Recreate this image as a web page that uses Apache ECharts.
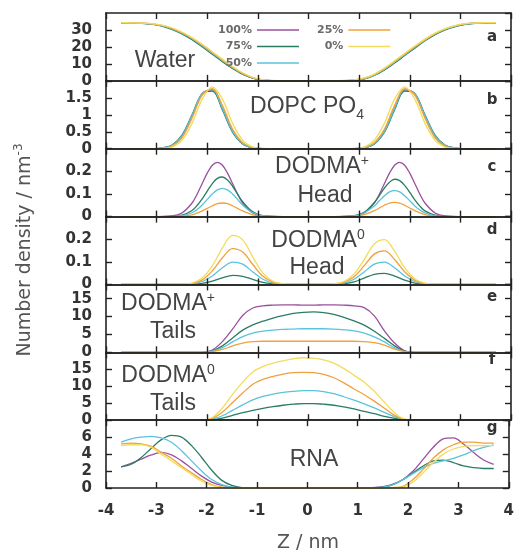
<!DOCTYPE html>
<html>
<head>
<meta charset="utf-8">
<script src="https://cdn.jsdelivr.net/npm/echarts@6/dist/echarts.min.js"></script>
<style>
  html, body { margin: 0; padding: 0; background: #ffffff; }
  #chart { width: 517px; height: 557px; }
</style>
</head>
<body>
<div id="chart"></div>
<script>
// Z positions (nm) used by most density profiles
const zPos = [-3.7,-3.5,-3.3,-3.1,-2.9,-2.7,-2.5,-2.3,-2.1,-1.9,-1.7,-1.5,-1.3,-1.1,-0.9,-0.7,-0.5,-0.3,-0.1,
              0.1,0.3,0.5,0.7,0.9,1.1,1.3,1.5,1.7,1.9,2.1,2.3,2.5,2.7,2.9,3.1,3.3,3.5,3.7];
// finer Z sampling around the narrow DODMA+ head peaks
const zHeadFine = [-3.7,-3.1,-2.7,-2.5,-2.3,-2.2,-2.1,-2.0,-1.9,-1.8,-1.7,-1.6,-1.5,-1.4,-1.3,-1.1,-0.9,-0.5,
                   0,
                   0.5,0.9,1.1,1.3,1.4,1.5,1.6,1.7,1.8,1.9,2.0,2.1,2.2,2.3,2.5,2.7,3.1,3.7];

const levels = ['100%', '75%', '50%', '25%', '0%'];
const xTicks = [-4, -3, -2, -1, 0, 1, 2, 3, 4];

// (a) Water
const water100 = [34.3,34.2,34.0,33.5,32.5,30.6,27.9,24.5,20.4,16.0,11.6,7.5,4.0,1.6,0.4,0.1,0,0,0, 0,0,0,0.05,0.3,1.2,3.3,6.6,10.8,15.2,19.6,23.8,27.4,30.2,32.2,33.4,34.0,34.2,34.3];
const water75  = [34.2,34.1,33.9,33.4,32.3,30.4,27.7,24.2,20.1,15.7,11.3,7.3,3.9,1.6,0.4,0.1,0,0,0, 0,0,0,0.05,0.3,1.2,3.2,6.4,10.5,14.9,19.3,23.6,27.2,30.0,32.0,33.3,33.9,34.1,34.2];
const water50  = [34.3,34.2,34.0,33.5,32.6,30.8,28.1,24.8,20.7,16.3,11.9,7.7,4.2,1.7,0.5,0.1,0,0,0, 0,0,0,0.1,0.4,1.3,3.4,6.8,11.0,15.4,19.8,24.0,27.6,30.4,32.3,33.5,34.0,34.2,34.3];
const water25  = [34.2,34.1,34.0,33.6,32.7,31.0,28.4,25.1,21.1,16.7,12.3,8.0,4.4,1.9,0.6,0.1,0,0,0, 0,0,0,0.1,0.5,1.5,3.7,7.1,11.4,15.8,20.1,24.3,27.8,30.6,32.5,33.6,34.1,34.2,34.2];
const water0   = [34.3,34.2,34.1,33.7,32.9,31.3,28.8,25.5,21.6,17.2,12.8,8.5,4.8,2.1,0.7,0.2,0,0,0, 0,0,0.02,0.2,0.6,1.7,4.0,7.5,11.8,16.2,20.5,24.6,28.1,30.8,32.6,33.7,34.1,34.3,34.3];

// (b) DOPC phosphate
const po4_100 = [0,0,0,0,0.02,0.09,0.37,0.97,1.62,1.73,1.19,0.52,0.15,0.03,0,0,0,0,0, 0,0,0,0,0,0.03,0.15,0.52,1.19,1.73,1.62,0.97,0.37,0.09,0.02,0,0,0,0];
const po4_75  = [0,0,0,0,0.02,0.10,0.40,1.00,1.62,1.70,1.14,0.49,0.14,0.03,0,0,0,0,0, 0,0,0,0,0,0.03,0.14,0.49,1.14,1.70,1.62,1.00,0.40,0.10,0.02,0,0,0,0];
const po4_50  = [0,0,0,0,0.02,0.09,0.38,0.98,1.63,1.74,1.18,0.51,0.15,0.03,0,0,0,0,0, 0,0,0,0,0,0.03,0.15,0.51,1.18,1.74,1.63,0.98,0.38,0.09,0.02,0,0,0,0];
const po4_25  = [0,0,0,0,0.01,0.07,0.32,0.90,1.58,1.77,1.27,0.58,0.18,0.04,0,0,0,0,0, 0,0,0,0,0,0.04,0.18,0.58,1.27,1.77,1.58,0.90,0.32,0.07,0.01,0,0,0,0];
const po4_0   = [0,0,0,0,0.01,0.05,0.25,0.75,1.46,1.82,1.46,0.75,0.25,0.05,0.01,0,0,0,0, 0,0,0,0,0.01,0.05,0.25,0.75,1.46,1.82,1.46,0.75,0.25,0.05,0.01,0,0,0,0];

// (c) DODMA+ head group, sampled on zHeadFine
const headP100 = [0,0,0.003,0.016,0.06,0.099,0.146,0.192,0.227,0.24,0.227,0.192,0.146,0.099,0.06,0.016,0.003,0, 0, 0,0.003,0.016,0.06,0.099,0.146,0.192,0.227,0.24,0.227,0.192,0.146,0.099,0.06,0.016,0.003,0,0];
const headP75  = [0,0,0.001,0.006,0.027,0.049,0.078,0.113,0.146,0.169,0.175,0.162,0.134,0.099,0.066,0.021,0.004,0, 0, 0,0.004,0.019,0.062,0.093,0.126,0.152,0.165,0.159,0.138,0.107,0.074,0.046,0.025,0.006,0.001,0,0];
const headP50  = [0,0,0,0.004,0.017,0.031,0.051,0.076,0.10,0.118,0.125,0.118,0.10,0.076,0.051,0.017,0.004,0, 0, 0,0.003,0.016,0.047,0.07,0.092,0.109,0.115,0.109,0.092,0.07,0.047,0.029,0.016,0.003,0,0,0];
const headP25  = [0,0,0,0.002,0.008,0.015,0.025,0.036,0.048,0.057,0.06,0.057,0.048,0.036,0.025,0.008,0.002,0, 0, 0,0.002,0.009,0.026,0.038,0.05,0.06,0.063,0.06,0.05,0.038,0.026,0.016,0.009,0.002,0,0,0];

// (d) DODMA0 head group
const headN75 = [0,0,0,0,0,0,0,0.001,0.005,0.015,0.029,0.040,0.036,0.022,0.009,0.003,0,0,0, 0,0,0,0.003,0.011,0.028,0.045,0.049,0.037,0.019,0.006,0.001,0,0,0,0,0,0,0];
const headN50 = [0,0,0,0,0,0,0,0.003,0.013,0.037,0.074,0.099,0.090,0.055,0.023,0.006,0.001,0,0, 0,0,0.001,0.006,0.023,0.055,0.090,0.099,0.074,0.037,0.013,0.003,0,0,0,0,0,0,0];
const headN25 = [0,0,0,0,0,0,0,0.005,0.020,0.060,0.118,0.158,0.143,0.088,0.036,0.010,0.002,0,0, 0,0,0.002,0.010,0.034,0.083,0.134,0.148,0.11,0.056,0.019,0.004,0,0,0,0,0,0,0];
const headN0  = [0,0,0,0,0,0,0.001,0.006,0.028,0.082,0.162,0.217,0.197,0.121,0.050,0.014,0.003,0,0, 0,0,0.003,0.013,0.046,0.110,0.179,0.198,0.147,0.074,0.025,0.006,0.001,0,0,0,0,0,0];

// (e) DODMA+ tails
const tailP100 = [0,0,0,0,0,0,0,0,0,0.6,3.0,6.5,10.3,12.4,13.0,13.2,13.3,13.3,13.2, 13.2,13.3,13.3,13.2,13.0,12.5,10.2,6.0,2.6,0.4,0,0,0,0,0,0,0,0,0];
const tailP75  = [0,0,0,0,0,0,0,0,0,0.4,1.8,4.0,6.2,7.7,8.7,9.6,10.3,10.9,11.2, 11.3,11.1,10.6,9.8,8.8,7.6,5.9,3.9,1.8,0.3,0,0,0,0,0,0,0,0,0];
const tailP50  = [0,0,0,0,0,0,0,0,0,0.3,1.3,2.9,4.4,5.4,5.9,6.2,6.4,6.5,6.6, 6.6,6.6,6.5,6.3,6.0,5.4,4.3,2.9,1.3,0.2,0,0,0,0,0,0,0,0,0];
const tailP25  = [0,0,0,0,0,0,0,0,0,0.2,0.8,1.8,2.6,3.0,3.1,3.1,3.1,3.1,3.1, 3.1,3.1,3.1,3.1,3.1,3.0,2.7,2.0,0.9,0.2,0,0,0,0,0,0,0,0,0];

// (f) DODMA0 tails
const tailN75 = [0,0,0,0,0,0,0,0,0,0.1,0.6,1.4,2.2,2.9,3.5,4.0,4.4,4.7,4.9, 4.9,4.7,4.4,3.9,3.3,2.6,1.9,1.1,0.5,0.1,0,0,0,0,0,0,0,0,0];
const tailN50 = [0,0,0,0,0,0,0,0,0,0.3,1.3,2.9,4.5,6.0,7.0,7.7,8.2,8.5,8.7, 8.7,8.4,7.8,6.9,5.9,4.8,3.6,2.3,1.0,0.1,0,0,0,0,0,0,0,0,0];
const tailN25 = [0,0,0,0,0,0,0,0,0,0.5,2.4,5.2,8.0,10.6,12.0,12.9,13.6,14.0,14.1, 14.0,13.5,12.5,11.0,9.2,7.5,5.6,3.5,1.4,0.2,0,0,0,0,0,0,0,0,0];
const tailN0  = [0,0,0,0,0,0,0,0,0,0.8,3.6,7.6,11.2,14.2,15.8,16.8,17.5,18.1,18.4, 18.3,17.8,16.8,15.2,13.2,11.2,8.5,5.3,2.2,0.3,0,0,0,0,0,0,0,0,0];

// (g) RNA
const rna100 = [2.5,2.9,3.4,3.9,4.2,3.9,3.2,2.3,1.4,0.7,0.3,0.1,0,0,0,0,0,0,0, 0,0,0,0,0,0,0.05,0.15,0.45,1.0,2.0,3.4,4.8,5.8,5.9,5.2,4.2,3.3,2.8];
const rna75  = [2.5,2.8,3.6,4.7,5.7,6.2,6.0,5.0,3.6,2.1,0.9,0.3,0.05,0,0,0,0,0,0, 0,0,0,0,0,0,0.02,0.1,0.4,1.0,1.8,2.6,3.2,3.3,3.0,2.6,2.4,2.3,2.3];
const rna50  = [5.4,5.8,6.0,6.1,5.9,5.4,4.4,3.2,2.0,1.0,0.4,0.1,0,0,0,0,0,0,0, 0,0,0,0,0,0,0.02,0.1,0.4,1.0,1.7,2.4,2.9,3.2,3.5,3.9,4.4,4.8,5.1];
const rna25  = [5.2,5.3,5.2,4.9,4.2,3.5,2.6,1.8,1.0,0.4,0.1,0,0,0,0,0,0,0,0, 0,0,0,0,0,0,0,0,0.05,0.2,1.0,2.2,3.5,4.5,5.1,5.4,5.4,5.3,5.3];
const rna0   = [5.0,5.1,5.1,4.8,4.0,3.2,2.4,1.6,0.8,0.3,0.05,0,0,0,0,0,0,0,0, 0,0,0,0,0,0,0,0,0,0.1,0.7,1.8,3.0,4.0,4.6,4.9,5.0,5.0,5.0];

// y-axis tick steps and upper limits, one per panel
const yMax  = [40, 2, 0.3, 0.3, 19, 20, 8];
const yStep = [10, 0.5, 0.1, 0.1, 5, 5, 2];

// Z sampling and curves per panel, curves in the order of `levels` (null = profile not present)
const panelZ = [zPos, zPos, zHeadFine, zPos, zPos, zPos, zPos];
const panelCurves = [
  [water100, water75, water50, water25, water0],
  [po4_100, po4_75, po4_50, po4_25, po4_0],
  [headP100, headP75, headP50, headP25, null],
  [null, headN75, headN50, headN25, headN0],
  [tailP100, tailP75, tailP50, tailP25, null],
  [null, tailN75, tailN50, tailN25, tailN0],
  [rna100, rna75, rna50, rna25, rna0]
];

const levelColors = ['#9b4f9f', '#2a7d63', '#5ac3dc', '#f2a03c', '#f2dc5c'];
const panelLetters = ['a', 'b', 'c', 'd', 'e', 'f', 'g'];

// ---- layout ----
const gridLeft = 106, gridRight = 6, gridTop = 13, panelH = 67.86;
const axisColor = '#222';
const tickFont = { fontFamily: 'DejaVu Sans', fontSize: 15, fontWeight: 'bold', color: '#333' };

const grids = [], xAxes = [], yAxes = [], series = [];

panelCurves.forEach((curves, i) => {
  const top = gridTop + i * panelH;
  grids.push({ left: gridLeft, right: gridRight, top: top, height: panelH, containLabel: false });
  const isLast = i === panelCurves.length - 1;

  const xCommon = {
    type: 'value', gridIndex: i, min: xTicks[0], max: xTicks[xTicks.length - 1], interval: 1,
    axisLine: { show: true, onZero: false, lineStyle: { color: axisColor, width: 1.6 } },
    axisTick: { show: true, inside: true, length: 6, lineStyle: { color: axisColor, width: 1.4 } },
    splitLine: { show: false }, z: 5
  };
  xAxes.push(Object.assign({}, xCommon, {
    position: 'bottom',
    axisLabel: Object.assign({ show: isLast, margin: 16 }, tickFont)
  }));
  xAxes.push(Object.assign({}, xCommon, { position: 'top', axisLabel: { show: false } }));

  const yCommon = {
    type: 'value', gridIndex: i, min: 0, max: yMax[i], interval: yStep[i],
    axisLine: { show: true, onZero: false, lineStyle: { color: axisColor, width: 1.6 } },
    axisTick: { show: true, inside: true, length: 6, lineStyle: { color: axisColor, width: 1.4 } },
    splitLine: { show: false }, z: 5
  };
  yAxes.push(Object.assign({}, yCommon, {
    position: 'left',
    axisLabel: Object.assign({ show: true, margin: 14, showMaxLabel: false }, tickFont)
  }));
  yAxes.push(Object.assign({}, yCommon, { position: 'right', axisLabel: { show: false } }));

  const zs = panelZ[i];
  curves.forEach((vals, k) => {
    if (!vals) return;
    series.push({
      type: 'line', name: levels[k], xAxisIndex: 2 * i, yAxisIndex: 2 * i,
      data: zs.map((z, n) => [z, vals[n]]),
      showSymbol: false, smooth: 0.35, silent: true, z: 2,
      lineStyle: { width: 1.3, color: levelColors[k] },
      itemStyle: { color: levelColors[k] }
    });
  });
});

// ---- panel annotations ----
const labelFill = '#444';
const labelFont = 'Liberation Sans';
const richLabel = {
  m: { fontSize: 23, fontFamily: labelFont, fill: labelFill, lineHeight: 26 },
  sup: { fontSize: 14, fontFamily: labelFont, fill: labelFill, verticalAlign: 'top', lineHeight: 26 },
  sub: { fontSize: 14, fontFamily: labelFont, fill: labelFill, verticalAlign: 'bottom', lineHeight: 30 }
};
function panelText(x, y, text) {
  return {
    type: 'text', x: x, y: y, silent: true, z: 10,
    style: { text: text, rich: richLabel, align: 'center', verticalAlign: 'middle',
             fill: labelFill, fontFamily: labelFont, fontSize: 23 }
  };
}

const graphics = [
  panelText(165, 61, '{m|Water}'),
  panelText(307, 107, '{m|DOPC PO}{sub|4}'),
  panelText(322, 167, '{m|DODMA}{sup|+}'),
  panelText(325, 196, '{m|Head}'),
  panelText(318, 241, '{m|DODMA}{sup|0}'),
  panelText(317, 268, '{m|Head}'),
  panelText(168, 304, '{m|DODMA}{sup|+}'),
  panelText(173, 332, '{m|Tails}'),
  panelText(168, 376, '{m|DODMA}{sup|0}'),
  panelText(173, 404, '{m|Tails}'),
  panelText(314, 460, '{m|RNA}')
];

const letterY = [37, 100, 167, 230, 297, 360, 428];
panelLetters.forEach((ch, i) => {
  graphics.push({
    type: 'text', x: 492, y: letterY[i], silent: true, z: 10,
    style: { text: ch, align: 'center', verticalAlign: 'middle', fill: '#333',
             fontFamily: 'DejaVu Sans', fontSize: 15, fontWeight: 'bold' }
  });
});

// axis titles
graphics.push({
  type: 'text', x: 25, y: 250, rotation: Math.PI / 2, silent: true, z: 10,
  style: {
    text: '{m|Number density / nm}{s|-3}', align: 'center', verticalAlign: 'middle',
    rich: {
      m: { fontSize: 19, fontFamily: 'DejaVu Sans', fill: '#555', lineHeight: 24 },
      s: { fontSize: 12, fontFamily: 'DejaVu Sans', fill: '#555', verticalAlign: 'top', lineHeight: 24 }
    }
  }
});
graphics.push({
  type: 'text', x: 308, y: 543, silent: true, z: 10,
  style: { text: 'Z / nm', align: 'center', verticalAlign: 'middle', fill: '#555',
           fontFamily: 'DejaVu Sans', fontSize: 19 }
});

const legendCommon = {
  orient: 'vertical', top: 19.5, align: 'right', icon: 'rect',
  itemWidth: 42, itemHeight: 1.6, itemGap: 5.5, selectedMode: false,
  textStyle: { fontFamily: 'DejaVu Sans', fontSize: 11, fontWeight: 'bold', color: '#6a6a6a' }
};

const option = {
  animation: false,
  backgroundColor: '#ffffff',
  grid: grids,
  xAxis: xAxes,
  yAxis: yAxes,
  legend: [
    Object.assign({}, legendCommon, { left: 213, data: levels.slice(0, 3) }),
    Object.assign({}, legendCommon, { left: 312, data: levels.slice(3) })
  ],
  graphic: { elements: graphics },
  series: series
};

const chart = echarts.init(document.getElementById('chart'), null, { renderer: 'canvas' });
chart.setOption(option);
</script>
</body>
</html>
